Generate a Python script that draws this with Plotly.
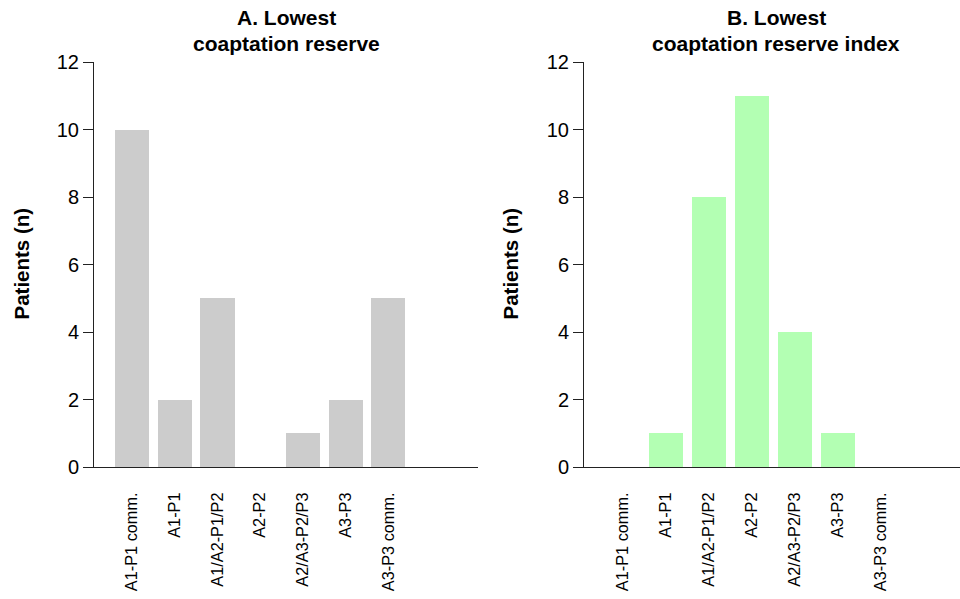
import plotly.graph_objects as go

categories = ["A1-P1 comm.", "A1-P1", "A1/A2-P1/P2", "A2-P2", "A2/A3-P2/P3", "A3-P3", "A3-P3 comm."]
reserve_counts = [10, 2, 5, 0, 1, 2, 5]
index_counts = [0, 1, 8, 11, 4, 1, 0]
y_ticks = [0, 2, 4, 6, 8, 10, 12]
title_a = ["A. Lowest", "coaptation reserve"]
title_b = ["B. Lowest", "coaptation reserve index"]
y_title = "Patients (n)"

W, H = 960, 599
FONT = "Liberation Sans, Arial, sans-serif"
pos = list(range(len(categories)))

fig = go.Figure()
fig.add_trace(go.Bar(x=pos, y=reserve_counts, width=0.8, marker=dict(color="#CCCCCC", line=dict(width=0)),
                     xaxis="x", yaxis="y", showlegend=False))
fig.add_trace(go.Bar(x=pos, y=index_counts, width=0.8, marker=dict(color="#B3FFB3", line=dict(width=0)),
                     xaxis="x2", yaxis="y2", showlegend=False))

def px_x(p):
    return p / W

def px_y(p):
    return 1 - p / H

ydom = [px_y(467), px_y(62)]
xcommon = dict(tickmode="array", tickvals=pos, ticktext=categories, tickangle=-90,
               showline=True, linecolor="#222222", linewidth=1, ticks="", showgrid=False,
               zeroline=False, tickfont=dict(family=FONT, size=16.3, color="black"),
               ticklabelstandoff=18, automargin=False)
ycommon = dict(range=[0, 12], tickvals=y_ticks, showline=True, linecolor="#222222", linewidth=1,
               ticks="outside", ticklen=10, tickcolor="#222222", showgrid=False, zeroline=False,
               tickfont=dict(family=FONT, size=20, color="black"), domain=ydom, automargin=False)

fig.update_layout(
    width=W, height=H, margin=dict(l=0, r=0, t=0, b=0, autoexpand=False),
    paper_bgcolor="white", plot_bgcolor="white", bargap=0,
    xaxis=dict(domain=[px_x(94), px_x(478)], range=[-0.89, 8.1], anchor="y", **xcommon),
    yaxis=dict(anchor="x", **ycommon),
    xaxis2=dict(domain=[px_x(584), px_x(960)], range=[-0.9, 7.84], anchor="y2", **xcommon),
    yaxis2=dict(anchor="x2", **ycommon),
    font=dict(family=FONT, color="black"),
)

for lines, cx in [(title_a, 286), (title_b, 776)]:
    for line, base in zip(lines, [25, 50]):
        fig.add_annotation(text="<b>" + line + "</b>", x=px_x(cx), y=px_y(base - 7),
                           xref="paper", yref="paper", xanchor="center", yanchor="middle",
                           showarrow=False, font=dict(family=FONT, size=21, color="black"))
for cx in [21, 510]:
    fig.add_annotation(text="<b>" + y_title + "</b>", x=px_x(cx), y=px_y(263.5), xref="paper", yref="paper",
                       xanchor="center", yanchor="middle", textangle=-90, showarrow=False,
                       font=dict(family=FONT, size=20.5, color="black"))

fig.write_html("out.html", config={"displayModeBar": False},
               post_script="document.body.style.margin='0px';document.body.style.overflow='hidden';")
